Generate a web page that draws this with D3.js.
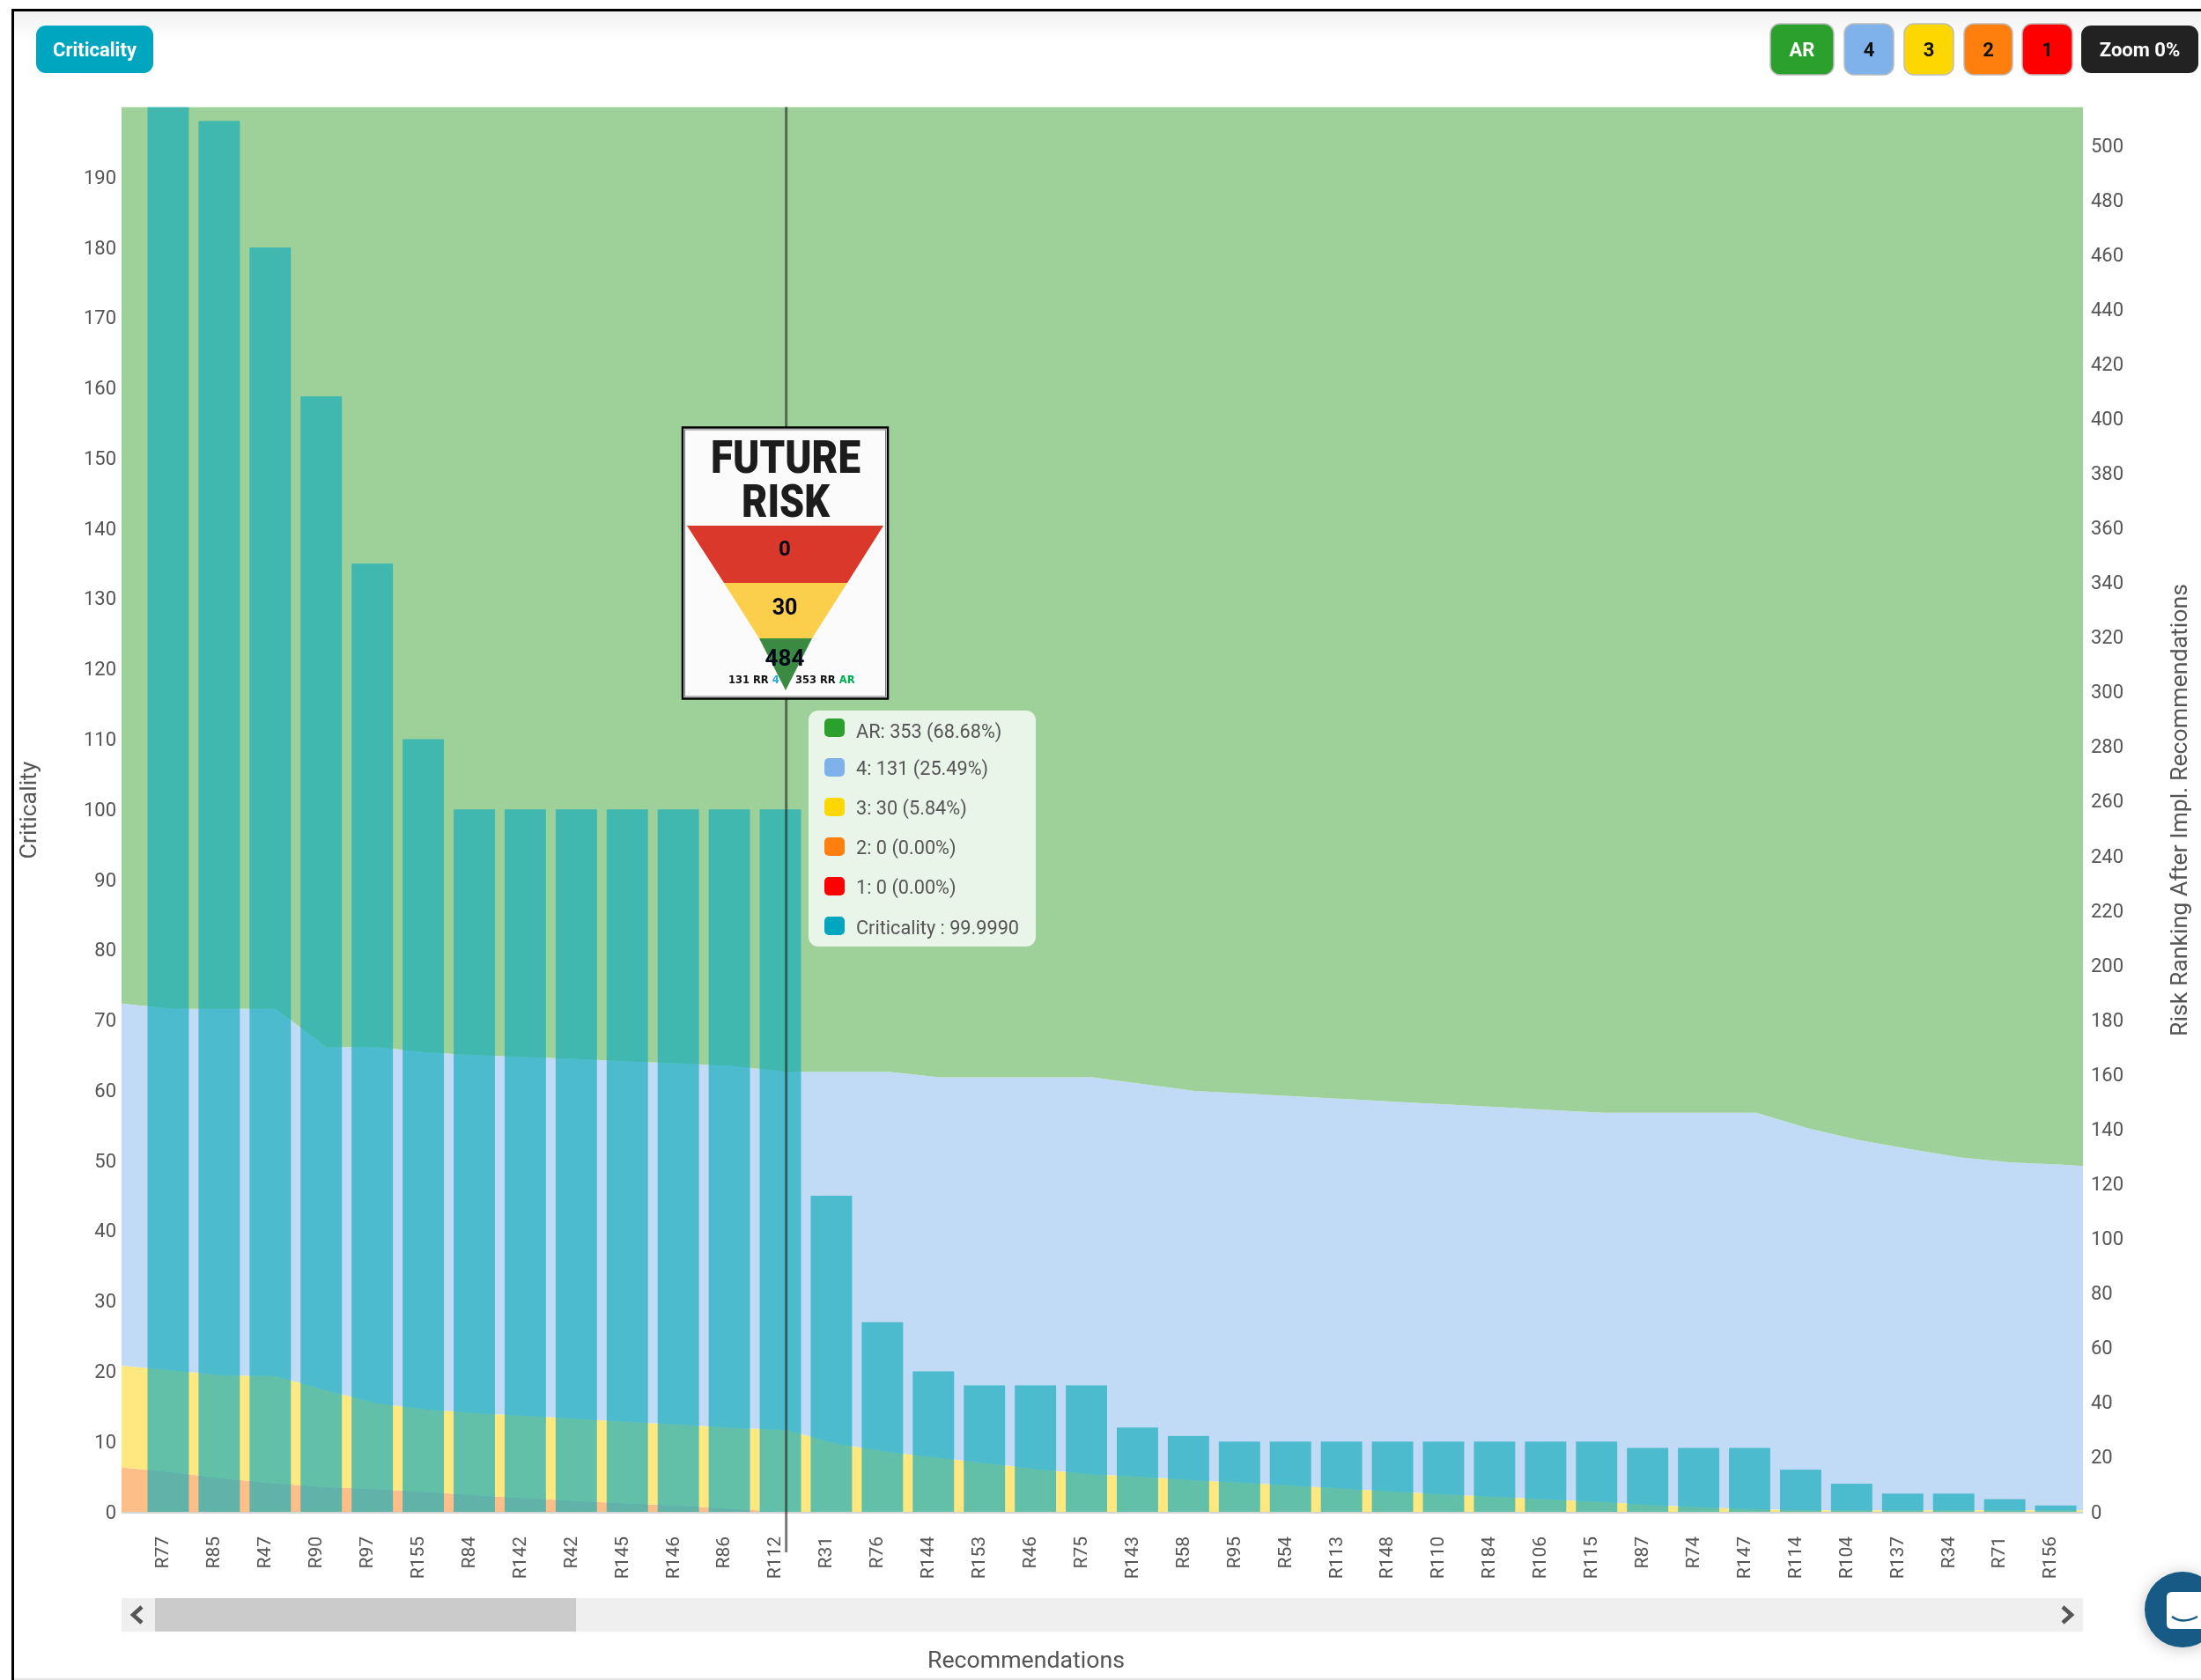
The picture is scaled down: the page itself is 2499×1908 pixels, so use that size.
<!DOCTYPE html>
<html>
<head>
<meta charset="utf-8">
<script src="https://cdn.jsdelivr.net/npm/d3@7/dist/d3.min.js"></script>
<style>
html,body{margin:0;padding:0;background:#fff;overflow:hidden}
svg{display:block;font-family:Roboto,sans-serif;filter:blur(0.65px)}
</style>
</head>
<body>
<svg id="c" width="2499" height="1908"></svg>
<script>
const categories = ["R77","R85","R47","R90","R97","R155","R84","R142","R42","R145","R146","R86","R112","R31","R76","R144","R153","R46","R75","R143","R58","R95","R54","R113","R148","R110","R184","R106","R115","R87","R74","R147","R114","R104","R137","R34","R71","R156"];
const criticality = [200,198,180,158.8,135,110,100,100,100,100,100,100,99.999,45,27,20,18,18,18,12,10.8,10,10,10,10,10,10,10,10,9.1,9.1,9.1,6,4,2.6,2.6,1.8,0.9];
const rank2 = [14.4,12.2,10.4,9,8.3,7.2,6,4.9,3.9,3,2.2,1,0,0,0,0,0,0,0,0,0,0,0,0,0,0,0,0,0,0,0,0,0,0,0,0,0,0];
const rank3 = [37.3,37.7,39.3,35.4,31.3,30.2,30,30.1,30,29.9,29.6,29.7,30,24.9,21.9,19.7,17.6,15.5,13.7,12.8,11.5,10.6,9.5,8.4,7.3,6.3,5.4,4.5,3.6,2.4,1.6,1,0.6,0.6,0.6,0.6,0.6,0.6];
const rank4 = [132.3,134.1,134.3,125.6,130.4,130.6,131,131.3,131.7,131.8,132.2,132.3,131,136.1,139.1,139.3,141.4,143.5,145.3,143.7,142.5,142.4,142.5,142.6,142.7,142.7,142.6,142.5,142.4,143.6,144.4,145,139.8,135.4,132.1,129.1,127.2,126.4];
const rankAR = [330,330,330,344,344,346,347,347.7,348.4,349.3,350,351,353,353,353,355,355,355,355,357.5,360,361,362,363,364,365,366,367,368,368,368,368,373.6,378,381.3,384.3,386.2,387];
const edgeLeft = {rank2:16.3,rank3:37.2,rank4:132.5,rankAR:328};
const edgeRight = {rank2:0,rank3:0.6,rank4:125.9,rankAR:387.5};
const seriesKeys = ["rank2","rank3","rank4","rankAR"];
const seriesFill = {rank2:"#fdbf87",rank3:"#ffe880",rank4:"#c1daf5",rankAR:"#9dd199"};
const leftTicks = [0,10,20,30,40,50,60,70,80,90,100,110,120,130,140,150,160,170,180,190];
const rightTicks = [0,20,40,60,80,100,120,140,160,180,200,220,240,260,280,300,320,340,360,380,400,420,440,460,480,500];
const legendButtons = [["AR","#2ca02c","#fff",2010,2082],["4","#7fb2ea","#111",2094,2150],["3","#ffd700","#111",2162,2218],["2","#ff7f0e","#111",2230,2285],["1","#ff0000","#111",2296,2353]];
const tooltipRows = [["AR: 353 (68.68%)","#2ca02c"],["4: 131 (25.49%)","#7fb2ea"],["3: 30 (5.84%)","#ffd700"],["2: 0 (0.00%)","#ff7f0e"],["1: 0 (0.00%)","#ff0000"],["Criticality : 99.9990","#00a5c0"]];

const L=138,R=2365,T=121.5,B=1717;
const svg=d3.select("#c");
const defs=svg.append("defs");
defs.append("clipPath").attr("id","plot").append("rect").attr("x",L).attr("y",T).attr("width",R-L).attr("height",B-T);
const g=defs.append("linearGradient").attr("id","hdr").attr("x1",0).attr("x2",0).attr("y1",0).attr("y2",1);
g.append("stop").attr("offset",0).attr("stop-color","#f1f1f1");
g.append("stop").attr("offset",1).attr("stop-color","#ffffff");
const sh=defs.append("filter").attr("id","sh").attr("x","-40%").attr("y","-40%").attr("width","180%").attr("height","180%");
sh.append("feDropShadow").attr("dx",0).attr("dy",2).attr("stdDeviation",9).attr("flood-color","#000").attr("flood-opacity",0.22);

// page frame
svg.append("rect").attr("x",16).attr("y",13).attr("width",2483).attr("height",34).attr("fill","url(#hdr)");
svg.append("rect").attr("x",13).attr("y",10).attr("width",2486).attr("height",3).attr("fill","#000");
svg.append("rect").attr("x",13).attr("y",10).attr("width",3).attr("height",1898).attr("fill","#000");
svg.append("rect").attr("x",16).attr("y",1906).attr("width",2483).attr("height",2).attr("fill","#e6e6e6");

const xBand=d3.scaleBand().domain(categories).range([162,2363]).paddingInner(0.19).paddingOuter(0.095);
const yL=d3.scaleLinear().domain([0,200]).range([B,T]);
const yR=d3.scaleLinear().domain([0,514]).range([B,T]);
const xArea=d3.scaleLinear().domain([0,categories.length-1]).range([xBand(categories[0])+xBand.bandwidth()/2+6,xBand(categories[37])+xBand.bandwidth()/2+8]);

const rows=[Object.assign({pos:xArea.invert(L)},edgeLeft)];
categories.forEach((c,i)=>rows.push({pos:i,rank2:rank2[i],rank3:rank3[i],rank4:rank4[i],rankAR:rankAR[i]}));
rows.push(Object.assign({pos:xArea.invert(R)},edgeRight));
const stacked=d3.stack().keys(seriesKeys)(rows);
const area=d3.area().x(d=>xArea(d.data.pos)).y0(d=>yR(d[0])).y1(d=>yR(d[1]));
const plot=svg.append("g").attr("clip-path","url(#plot)");
plot.selectAll("path.s").data(stacked).join("path").attr("class","s").attr("d",area).attr("fill",d=>seriesFill[d.key]);
plot.selectAll("rect.b").data(categories).join("rect").attr("class","b")
 .attr("x",d=>xBand(d)).attr("width",xBand.bandwidth())
 .attr("y",(d,i)=>yL(criticality[i])).attr("height",(d,i)=>B-yL(criticality[i]))
 .attr("fill","rgb(19,172,187)").attr("fill-opacity",0.67);
svg.append("line").attr("x1",L).attr("x2",R).attr("y1",B+1).attr("y2",B+1).attr("stroke","#d4d4d4").attr("stroke-width",2);

// axes
const tickColor="#555";
const ax=svg.append("g").attr("transform",`translate(0,${B})`).call(d3.axisBottom(xBand).tickSize(0));
ax.select(".domain").remove();
ax.selectAll("text").attr("transform","rotate(-90)").attr("text-anchor","end").attr("x",-28).attr("y",-7).attr("dy","0.35em")
 .attr("font-size",21).attr("font-family","Roboto").attr("fill",tickColor);
const al=svg.append("g").attr("transform",`translate(${L},0)`).call(d3.axisLeft(yL).tickValues(leftTicks).tickSize(0).tickPadding(6));
al.select(".domain").remove();
al.selectAll("text").attr("font-size",22).attr("font-family","Roboto").attr("fill",tickColor);
const ar=svg.append("g").attr("transform",`translate(${R},0)`).call(d3.axisRight(yR).tickValues(rightTicks).tickSize(0).tickPadding(9));
ar.select(".domain").remove();
ar.selectAll("text").attr("font-size",22).attr("font-family","Roboto").attr("fill",tickColor);

// axis titles
const title=(t,x,y,rot)=>svg.append("text").text(t).attr("text-anchor","middle").attr("dominant-baseline","middle")
 .attr("transform",`translate(${x},${y}) rotate(${rot})`).attr("font-size",26.7).attr("font-family","Roboto").attr("fill","#555");
title("Criticality",34,920,-90);
title("Risk Ranking After Impl. Recommendations",2476,920,-90);
title("Recommendations",1165,1887,0);

// crosshair
const hx=xArea(12);
svg.append("line").attr("x1",hx).attr("x2",hx).attr("y1",T).attr("y2",1763).attr("stroke","#222").attr("stroke-opacity",0.6).attr("stroke-width",3);

// scrollbar
svg.append("rect").attr("x",L).attr("y",1815).attr("width",R-L).attr("height",38).attr("fill","#efefef");
svg.append("rect").attr("x",176).attr("y",1815).attr("width",478).attr("height",38).attr("fill","#cbcbcb");
const chev=(pts)=>svg.append("path").attr("d",d3.line()(pts)).attr("fill","none").attr("stroke","#555").attr("stroke-width",4.5);
chev([[161,1825],[151,1834],[161,1843]]);
chev([[2342,1825],[2352,1834],[2342,1843]]);

// top buttons
const btn=(x0,x1,fill,label,color,weight,size)=>{
 svg.append("rect").attr("x",x0).attr("y",label==="Criticality"||label==="Zoom 0%"?29:27).attr("width",x1-x0)
  .attr("height",label==="Criticality"||label==="Zoom 0%"?54:58).attr("rx",11).attr("fill",fill)
  .attr("stroke",label==="Criticality"||label==="Zoom 0%"?"none":"#bdbdbd").attr("stroke-width",1.5);
 svg.append("text").text(label).attr("x",(x0+x1)/2).attr("y",58.5).attr("text-anchor","middle").attr("dominant-baseline","middle")
  .attr("font-size",size).attr("font-weight",weight).attr("font-family","Roboto").attr("fill",color);
};
btn(41,174,"#00a5c0","Criticality","#fff",700,22);
legendButtons.forEach(b=>btn(b[3],b[4],b[1],b[0],b[2],700,22));
btn(2363,2496,"#222222","Zoom 0%","#fff",700,22);

// tooltip
svg.append("rect").attr("x",918).attr("y",807).attr("width",258).attr("height",268).attr("rx",11).attr("fill","#eaf5ea");
const rowY=[826,871,916,961,1006,1051];
const textY=[832,874,919,964,1009,1055];
tooltipRows.forEach((r,i)=>{
 svg.append("rect").attr("x",936).attr("y",rowY[i]-10).attr("width",23).attr("height",21).attr("rx",5).attr("fill",r[1]);
 svg.append("text").text(r[0]).attr("x",972).attr("y",textY[i]).attr("dominant-baseline","middle")
  .attr("font-size",21.7).attr("font-family","Roboto").attr("fill","#555");
});

// future risk card
svg.append("rect").attr("x",775).attr("y",485.5).attr("width",233).attr("height",308).attr("fill","#fbfbfb").attr("stroke","#000").attr("stroke-width",2.5);
svg.append("rect").attr("x",777.5).attr("y",488).attr("width",228).attr("height",303).attr("fill","none").attr("stroke","#777").attr("stroke-width",1);
const big=(t,y,w)=>svg.append("text").text(t).attr("x",892).attr("y",y).attr("text-anchor","middle").attr("font-size",52).attr("font-weight",900)
 .attr("font-family","Roboto").attr("fill","#1c1c1c").attr("textLength",w).attr("lengthAdjust","spacingAndGlyphs");
big("FUTURE",537,170); big("RISK",587,100);
const poly=(p,f)=>svg.append("polygon").attr("points",p.map(a=>a.join(",")).join(" ")).attr("fill",f);
poly([[780,597],[1003,597],[962,662],[822,662]],"#d9382a");
poly([[822,662],[962,662],[922,725],[862,725]],"#fbce4b");
poly([[862,725],[922,725],[892,784]],"#3a8a42");
const num=(t,y,s)=>svg.append("text").text(t).attr("x",891).attr("y",y).attr("text-anchor","middle").attr("dominant-baseline","middle")
 .attr("font-size",s).attr("font-weight",700).attr("font-family","Roboto").attr("fill","#06061a");
num("0",625,24); num("30",691,25); num("484",749,26);
const small=svg.append("text").attr("x",827).attr("y",772).attr("dominant-baseline","middle").attr("font-size",11.5).attr("font-weight",700).attr("font-family","DejaVu Sans").attr("fill","#111");
small.append("tspan").text("131 RR ");small.append("tspan").text("4").attr("fill","#29abe2");
const small2=svg.append("text").attr("x",903).attr("y",772).attr("dominant-baseline","middle").attr("font-size",11.5).attr("font-weight",700).attr("font-family","DejaVu Sans").attr("fill","#111");
small2.append("tspan").text("353 RR ");small2.append("tspan").text("AR").attr("fill","#00b050");

// chat badge
svg.append("ellipse").attr("cx",2478).attr("cy",1828).attr("rx",43).attr("ry",43).attr("fill","#135a85").attr("filter","url(#sh)");
svg.append("path").attr("d","M2466,1808 H2499 V1850 H2466 Q2460,1850 2460,1844 V1814 Q2460,1808 2466,1808 Z").attr("fill","#fff");
svg.append("path").attr("d","M2466,1836 Q2478,1845 2495,1836").attr("fill","none").attr("stroke","#135a85").attr("stroke-width",2.5);
</script>
</body>
</html>
